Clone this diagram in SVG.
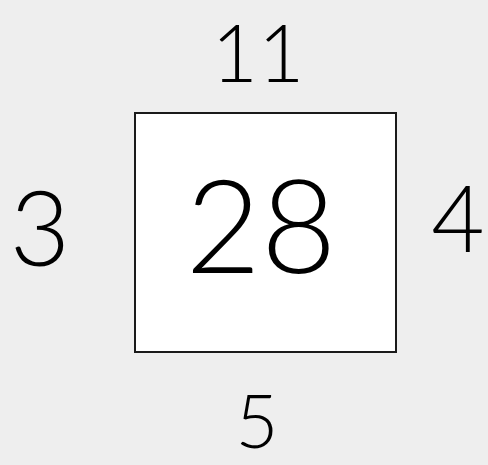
<svg xmlns="http://www.w3.org/2000/svg" width="488" height="465" viewBox="0 0 488 465">
<style>
.lbl{font-family:Lato,"Liberation Sans",sans-serif;font-weight:300;fill:#000;text-anchor:middle}
.box{fill:#fff;stroke:#1a1a1a;stroke-width:2}
</style>
<rect x="0" y="0" width="488" height="465" fill="#eeeeee"/>
<g id="box">
<rect class="box" x="135" y="113" width="261" height="239"/>
<text class="lbl" x="261" y="273" font-size="130">28</text>
</g>
<g id="top"><text class="lbl" x="258" y="82" font-size="80">11</text></g>
<g id="left"><text class="lbl" x="40" y="266" font-size="104">3</text></g>
<g id="right"><text class="lbl" x="458" y="252" font-size="92">4</text></g>
<g id="bottom"><text class="lbl" x="257" y="448" font-size="74">5</text></g>
<g id="connectors"/>
</svg>
